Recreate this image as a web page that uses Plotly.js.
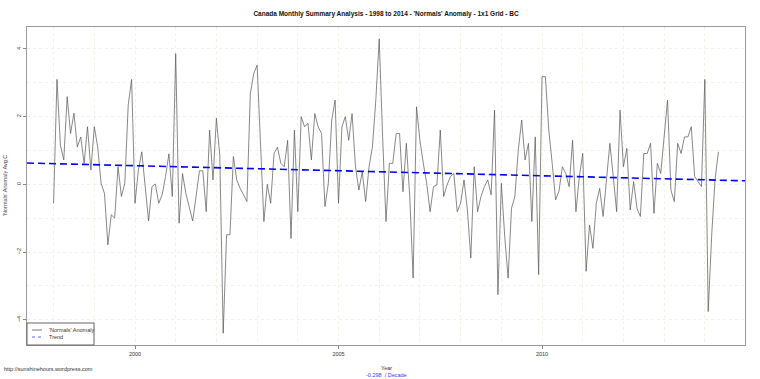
<!DOCTYPE html>
<html>
<head>
<meta charset="utf-8">
<script src="https://cdn.plot.ly/plotly-3.0.1.min.js"></script>
<style>html,body{margin:0;padding:0;background:#fff;}#chart{width:760px;height:379px;}</style>
</head>
<body>
<div id="chart"></div>
<script>
// Monthly 'Normals' anomaly (deg C), January 1998 onwards
const startYear = 1998;
const y1998 = [-0.56, 3.1, 1.16, 0.72, 2.59, 1.5, 2.1, 1.1, 1.4, 0.62, 1.7, 0.42];
const y1999 = [1.7, 1.1, 0.03, -0.27, -1.79, -0.9, -1.0, 0.52, -0.36, 0.03, 2.34, 3.1];
const y2000 = [-0.56, 0.42, 0.96, -0.07, -1.08, -0.07, 0.01, -0.56, -0.31, 0.23, 0.9, -0.36];
const y2001 = [3.86, -1.15, 0.32, -0.27, -0.66, -1.08, -0.36, 0.4, 0.4, -0.81, 1.6, 0.13];
const y2002 = [1.95, 0.85, -4.4, -1.49, -1.49, 0.82, 0.13, -0.12, -0.31, -0.51, 2.68, 3.27];
const y2003 = [3.52, 1.2, -1.1, 0.0, -0.56, 0.91, 1.1, 0.62, 0.52, 1.3, -1.6, 1.6];
const y2004 = [-0.81, 2.0, 1.7, 1.8, 0.72, 2.09, 1.7, 1.5, -0.66, 0.03, 1.9, 2.49];
const y2005 = [-0.56, 1.7, 2.0, 1.3, 2.09, 0.52, -0.17, 0.37, -0.51, 0.52, 1.1, 2.49];
const y2006 = [4.3, 1.4, -1.1, 0.62, 0.62, 1.5, 1.5, -0.22, 1.21, -0.36, -2.77, 2.29];
const y2007 = [1.3, 0.62, 0.03, -0.81, -0.07, -0.02, 1.6, -0.36, -0.02, 0.23, 0.32, -0.81];
const y2008 = [-0.56, 0.13, -0.76, -2.18, 0.52, -0.81, -0.36, -0.07, 0.13, -0.31, 2.19, -3.26];
const y2009 = [0.03, -1.54, -2.77, -0.71, -0.36, 1.01, 1.9, 0.72, 1.21, -1.1, 1.4, -2.67];
const y2010 = [3.18, 3.18, 1.6, 0.62, -0.46, -0.2, 0.52, 0.32, -0.07, 1.3, -0.81, 0.23];
const y2011 = [0.91, -2.57, -1.2, -1.89, -0.56, -0.12, -0.95, 0.13, 1.21, 0.23, -0.81, 2.19];
const y2012 = [0.52, 1.06, -0.76, 0.08, -0.71, -0.95, 0.91, 0.91, 1.21, -0.86, 0.62, 0.32];
const y2013 = [1.3, 2.49, -0.17, -0.51, 1.21, 0.91, 1.4, 1.4, 1.7, 0.23, 0.08, -0.07];
const y2014 = [3.1, -3.76, -1.54, 0.13, 0.96];

// Trend
const trendAt2000 = 0.55;
const trendPerDecade = -0.298;

// Tick labels
const xTickVals = [2000, 2005, 2010];
const yTickVals = [-4, -2, 0, 2, 4];

const anomaly = [].concat(y1998, y1999, y2000, y2001, y2002, y2003, y2004, y2005,
  y2006, y2007, y2008, y2009, y2010, y2011, y2012, y2013, y2014);
const years = anomaly.map((v, i) => startYear + i / 12);

// R-style 4% axis extension
const xMin = years[0], xMax = years[years.length - 1];
const yMin = Math.min(...anomaly), yMax = Math.max(...anomaly);
const xPad = (xMax - xMin) * 0.04, yPad = (yMax - yMin) * 0.04;
const xRange = [xMin - xPad, xMax + xPad];
const yRange = [yMin - yPad, yMax + yPad];

const trendX = [xRange[0], xRange[1]];
const trendY = trendX.map(x => trendAt2000 + trendPerDecade / 10 * (x - 2000));

const F = 'Liberation Sans, Arial, sans-serif';
const gridCol = '#f1f1e4';

const traces = [
  {x: years, y: anomaly, type: 'scatter', mode: 'lines', name: "'Normals' Anomaly",
   line: {color: '#555', width: 0.7}, hoverinfo: 'skip'},
  {x: trendX, y: trendY, type: 'scatter', mode: 'lines', name: 'Trend',
   line: {color: '#0000ff', width: 1.6, dash: '7px,4px'}, hoverinfo: 'skip'}
];

const layout = {
  width: 760, height: 379,
  margin: {l: 27, r: 15, t: 27, b: 34},
  paper_bgcolor: '#fff', plot_bgcolor: '#fff',
  showlegend: false,
  font: {family: F, size: 5.5, color: '#333'},
  title: {text: "<b>Canada Monthly Summary Analysis - 1998 to 2014 - 'Normals' Anomaly - 1x1 Grid - BC</b>",
          font: {family: F, size: 6.5, color: '#111'}, x: 0.5, xref: 'paper', y: 1 - 14/379, yref: 'container', yanchor: 'middle'},
  xaxis: {range: xRange, tickvals: xTickVals, ticks: 'outside', ticklen: 3, tickcolor: '#888',
          showline: true, linecolor: '#999', linewidth: 1, mirror: true, zeroline: false,
          showgrid: true, gridcolor: gridCol, griddash: 'dot', gridwidth: 1,
          minor: {dtick: 1, tick0: 2000, showgrid: true, gridcolor: gridCol, griddash: 'dot', ticks: ''},
          tickfont: {family: F, size: 5.5, color: '#333'}},
  yaxis: {range: yRange, tickvals: yTickVals, ticks: 'outside', ticklen: 3, tickcolor: '#888', tickangle: -90,
          showline: true, linecolor: '#999', linewidth: 1, mirror: true, zeroline: false,
          showgrid: true, gridcolor: gridCol, griddash: 'dot', gridwidth: 1,
          minor: {dtick: 1, tick0: 0, showgrid: true, gridcolor: gridCol, griddash: 'dot', ticks: ''},
          tickfont: {family: F, size: 5.5, color: '#333'}},
  shapes: [
    {type: 'rect', xref: 'paper', yref: 'paper', x0: 0, x1: 67/718, y0: 0, y1: 22/318,
     line: {color: '#666', width: 1}, fillcolor: '#fff'},
    {type: 'line', xref: 'paper', yref: 'paper', x0: 5/718, x1: 15/718, y0: 15/318, y1: 15/318,
     line: {color: '#555', width: 0.8}},
    {type: 'line', xref: 'paper', yref: 'paper', x0: 5/718, x1: 15/718, y0: 8/318, y1: 8/318,
     line: {color: '#6666ff', width: 1, dash: 'dot'}}
  ],
  annotations: [
    {text: "'Normals' Anomaly", xref: 'paper', yref: 'paper', x: 20/718, y: 15/318, xanchor: 'left', yanchor: 'middle',
     showarrow: false, font: {family: F, size: 5.5, color: '#333'}},
    {text: 'Trend', xref: 'paper', yref: 'paper', x: 20/718, y: 8/318, xanchor: 'left', yanchor: 'middle',
     showarrow: false, font: {family: F, size: 5.5, color: '#333'}},
    {text: "'Normals' Anomaly Avg C", xref: 'paper', yref: 'paper', x: -22/718, y: 0.5, xanchor: 'center', yanchor: 'middle',
     textangle: -90, showarrow: false, font: {family: F, size: 5.5, color: '#444'}},
    {text: 'Year', xref: 'paper', yref: 'paper', x: 0.5, y: -23/318, xanchor: 'center', yanchor: 'middle',
     showarrow: false, font: {family: F, size: 5.5, color: '#333'}},
    {text: '-0.298  / Decade', xref: 'paper', yref: 'paper', x: 0.5, y: -30/318, xanchor: 'center', yanchor: 'middle',
     showarrow: false, font: {family: F, size: 5.5, color: '#3a3aff'}},
    {text: 'http://sunshinehours.wordpress.com', xref: 'paper', yref: 'paper', x: -25/718, y: -24/318, xanchor: 'left', yanchor: 'middle',
     showarrow: false, font: {family: F, size: 5.5, color: '#333'}}
  ]
};

Plotly.newPlot('chart', traces, layout, {staticPlot: true, displayModeBar: false});
</script>
</body>
</html>
